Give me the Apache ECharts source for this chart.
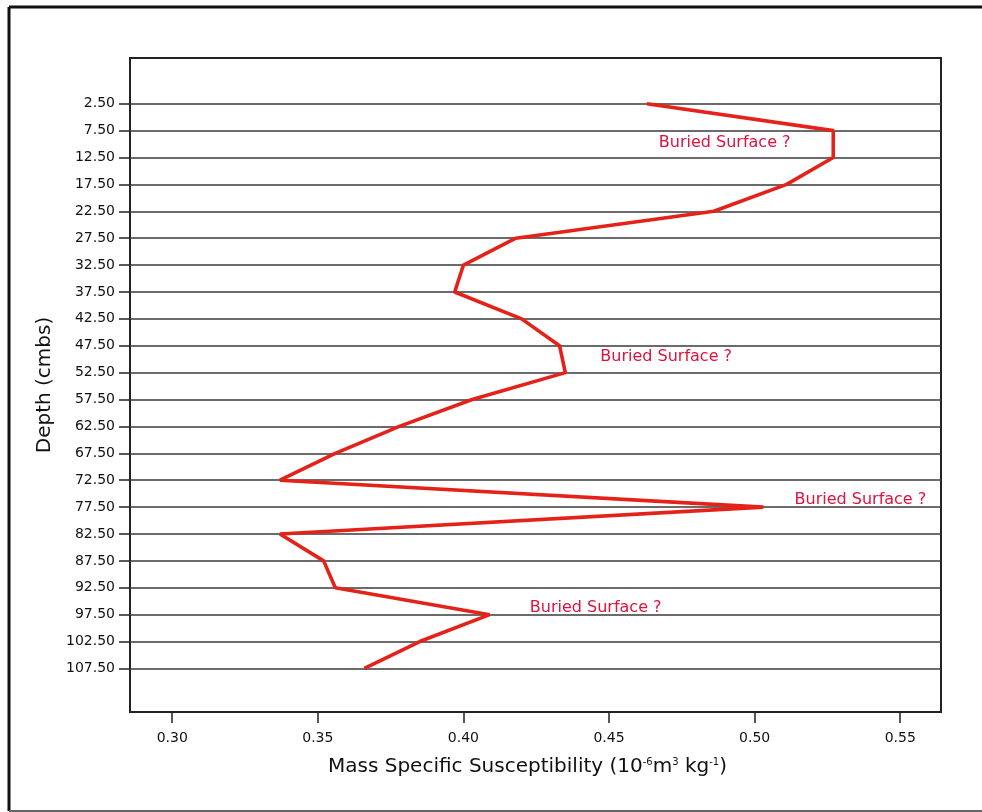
<!DOCTYPE html>
<html>
<head>
<meta charset="utf-8">
<script src="https://cdn.jsdelivr.net/npm/echarts@6/dist/echarts.min.js"></script>
<style>
html,body{margin:0;padding:0;background:#fff;}
#chart{width:982px;height:812px;}
</style>
</head>
<body>
<div id="chart"></div>
<script>
// Depth (cmbs) categories
const depths = [2.5, 7.5, 12.5, 17.5, 22.5, 27.5, 32.5, 37.5, 42.5, 47.5, 52.5, 57.5, 62.5, 67.5, 72.5, 77.5, 82.5, 87.5, 92.5, 97.5, 102.5, 107.5];
// Mass specific susceptibility (10^-6 m^3 kg^-1)
const susceptibility = [0.463, 0.527, 0.527, 0.511, 0.486, 0.418, 0.400, 0.397, 0.420, 0.433, 0.435, 0.403, 0.378, 0.356, 0.337, 0.503, 0.337, 0.352, 0.356, 0.409, 0.385, 0.366];
// X tick labels
const xTicks = [0.30, 0.35, 0.40, 0.45, 0.50, 0.55];
const annotationText = 'Buried Surface ?';

const FONT = '"DejaVu Sans", sans-serif';
const chart = echarts.init(document.getElementById('chart'));
const seriesData = depths.map((d, i) => [susceptibility[i], d]);

chart.setOption({
  backgroundColor: '#ffffff',
  animation: false,
  textStyle: { fontFamily: FONT },
  graphic: [
    { type: 'line', shape: { x1: 9, y1: 7, x2: 990, y2: 7 }, style: { stroke: '#111', lineWidth: 3 } },
    { type: 'line', shape: { x1: 9, y1: 7, x2: 9, y2: 811 }, style: { stroke: '#111', lineWidth: 3 } },
    { type: 'line', shape: { x1: 9, y1: 811, x2: 990, y2: 811 }, style: { stroke: '#666', lineWidth: 2 } }
  ],
  grid: {
    left: 130, right: 41, top: 58, bottom: 100,
    show: true, borderColor: '#222', borderWidth: 2, backgroundColor: 'transparent'
  },
  xAxis: {
    type: 'value',
    min: 0.2855, max: 0.564,
    name: 'Mass Specific Susceptibility (10{sup|-6}m{sup|3} kg{sup|-1})',
    nameLocation: 'middle',
    nameGap: 45,
    nameTextStyle: {
      fontFamily: FONT, fontSize: 20, color: '#111', padding: [0, 16, 0, 0],
      rich: { sup: { fontFamily: FONT, fontSize: 10, color: '#111', verticalAlign: 'top', padding: [0, 0, 10, 0] } }
    },
    axisLine: { show: true, onZero: false, lineStyle: { color: '#222', width: 2 } },
    axisTick: { show: true, length: 11, lineStyle: { color: '#222', width: 1.5 }, customValues: xTicks },
    axisLabel: {
      customValues: xTicks, margin: 19, fontFamily: FONT, fontSize: 14, color: '#111',
      formatter: v => Number(v).toFixed(2)
    },
    splitLine: { show: false }
  },
  yAxis: {
    type: 'value',
    inverse: true,
    min: -6, max: 115.6,
    name: 'Depth (cmbs)',
    nameLocation: 'middle',
    nameGap: 66,
    nameTextStyle: { fontFamily: FONT, fontSize: 20, color: '#111' },
    axisLine: { show: true, onZero: false, lineStyle: { color: '#222', width: 2 } },
    axisTick: { show: true, length: 11, lineStyle: { color: '#222', width: 1.5 }, customValues: depths },
    axisLabel: {
      customValues: depths, margin: 15, fontFamily: FONT, fontSize: 14, color: '#111',
      formatter: v => Number(v).toFixed(2)
    },
    splitLine: { show: false }
  },
  series: [
    {
      type: 'line',
      name: 'grid',
      data: [],
      silent: true,
      z: 1,
      markLine: {
        silent: true,
        symbol: ['none', 'none'],
        label: { show: false },
        lineStyle: { color: '#3a3a3a', width: 1.5, type: 'solid' },
        data: depths.map(d => ({ yAxis: d }))
      }
    },
    {
      type: 'line',
      name: 'Susceptibility',
      data: seriesData,
      showSymbol: false,
      symbol: 'none',
      z: 5,
      lineStyle: { color: '#e5221a', width: 3.6 },
      markPoint: {
        symbol: 'circle',
        symbolSize: 0,
        silent: true,
        label: {
          show: true, position: 'right', distance: 0,
          fontFamily: FONT, fontSize: 16, color: '#e0113c',
          formatter: annotationText
        },
        data: [
          { coord: [0.4671, 9.7] },
          { coord: [0.4470, 49.6] },
          { coord: [0.5137, 76.2] },
          { coord: [0.4228, 96.3] }
        ]
      }
    }
  ]
});
</script>
</body>
</html>
